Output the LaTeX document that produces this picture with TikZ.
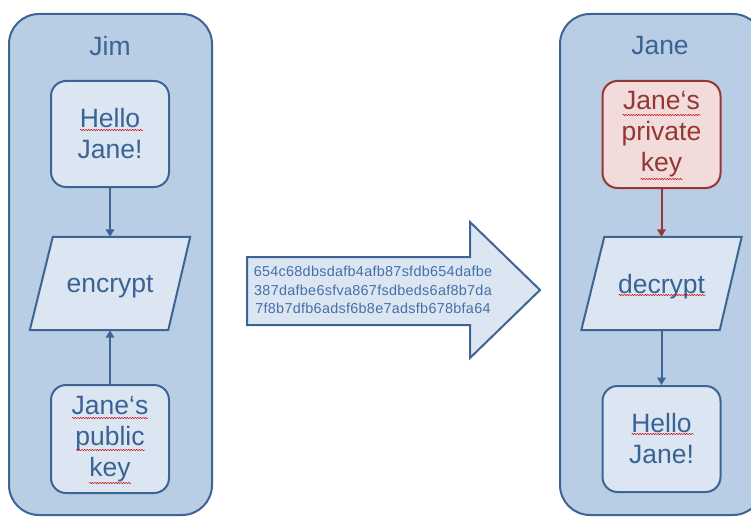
\documentclass[tikz,border=0pt]{standalone}
\usepackage{fontspec}
\setmainfont{Liberation Sans}
\newfontfamily\hexfont[LetterSpace=2]{Liberation Sans}
\usetikzlibrary{arrows.meta,decorations.pathmorphing}

\definecolor{laneFill}{HTML}{B9CDE5}
\definecolor{laneLine}{HTML}{3D6594}
\definecolor{boxFill}{HTML}{DCE6F2}
\definecolor{inkBlue}{HTML}{3A6395}
\definecolor{keyFill}{HTML}{F2DCDB}
\definecolor{keyLine}{HTML}{953735}
\definecolor{hexBlue}{HTML}{4470A8}

\tikzset{
  lane/.style={draw=laneLine, fill=laneFill, line width=2pt, rounded corners=30pt,
    minimum width=203pt, minimum height=501pt},
  lanelabel/.style={text=inkBlue, font=\fontsize{26.5}{30}\selectfont, inner sep=0pt},
  msgbox/.style={draw=laneLine, fill=boxFill, line width=2pt, rounded corners=15pt,
    minimum width=118pt, minimum height=106pt, inner sep=0pt, align=center,
    text=inkBlue, font=\fontsize{26.5}{31}\selectfont},
  keybox/.style={msgbox, draw=keyLine, fill=keyFill, text=keyLine},
  % invisible frame of a parallelogram operation
  opframe/.style={minimum width=160pt, minimum height=93pt, inner sep=0pt},
  opline/.style={draw=laneLine, fill=boxFill, line width=2pt, line join=miter},
  optext/.style={text=inkBlue, inner sep=0pt, font=\fontsize{26.5}{30}\selectfont},
  flow/.style={draw=laneLine, line width=2pt, -{Triangle[length=7.5pt,width=8.5pt]}},
  bigarrow/.style={draw=laneLine, fill=boxFill, line width=2pt, line join=miter},
  hextext/.style={text=hexBlue, align=center, inner sep=0pt,
    font=\hexfont\fontsize{14.4}{18.5}\selectfont},
  spell/.style={draw=red!80!black, line width=0.5pt, decorate,
    decoration={snake, amplitude=0.6pt, segment length=2.6pt}}
}

\begin{document}
\begin{tikzpicture}[x=1pt,y=-1pt]
  \useasboundingbox (0,0) rectangle (751,516);
  \clip (0,0) rectangle (751,516);

  % swim lanes of the two parties
  \node[lane] (jimlane) at (110.5,264.5) {};
  \node[lane] (janelane) at (661.5,264.5) {};
  \node[lanelabel] (jimlabel) at (110,46) {Jim};
  \node[lanelabel] (janelabel) at (660,46) {Jane};

  % sender side
  \node[msgbox] (plainA) at (110,134) {Hello\\Jane!};
  \node[opframe] (enc) at (110,283.5) {};
  \draw[opline] ([xshift=23pt]enc.north west) -- (enc.north east)
    -- ([xshift=-22pt]enc.south east) -- (enc.south west) -- cycle;
  \node[optext] (enclabel) at (110,287) {encrypt};
  \node[msgbox, minimum height=108pt] (pubkey) at (110,439) {Jane‘s\\public\\key};

  % receiver side
  \node[keybox, minimum height=107pt] (privkey) at (661.5,134.5) {Jane‘s\\private\\key};
  \node[opframe] (dec) at (661.5,283.5) {};
  \draw[opline] ([xshift=23pt]dec.north west) -- (dec.north east)
    -- ([xshift=-22pt]dec.south east) -- (dec.south west) -- cycle;
  \node[optext] (declabel) at (661.5,287) {decrypt};
  \node[msgbox] (plainB) at (661.5,439) {Hello\\Jane!};

  % flows inside the lanes
  \draw[flow] (plainA.south) -- (plainA.south |- enc.north);
  \draw[flow] (pubkey.north) -- (pubkey.north |- enc.south);
  \draw[flow, draw=keyLine] (privkey.south) -- (privkey.south |- dec.north);
  \draw[flow] (plainB.north |- dec.south) -- (plainB.north);

  % transmitted ciphertext
  \draw[bigarrow] (247,257) -- (470,257) -- (470,222) -- (540,290)
    -- (470,358) -- (470,325) -- (247,325) -- cycle;
  \node[hextext] (cipher) at (373,290)
    {654c68dbsdafb4afb87sfdb654dafbe\\387dafbe6sfva867fsdbeds6af8b7da\\7f8b7dfb6adsf6b8e7adsfb678bfa64};

  % spell-check marks under words
  \draw[spell] ([xshift=-30pt,yshift=4pt]plainA.center) -- ++(63,0);
  \draw[spell] ([xshift=-38pt,yshift=21pt]pubkey.center) -- ++(76,0);
  \draw[spell] ([xshift=-34pt,yshift=-11pt]pubkey.center) -- ++(69,0);
  \draw[spell] ([xshift=-21pt,yshift=-44pt]pubkey.center) -- ++(42,0);
  \draw[spell] ([xshift=-39pt,yshift=19.5pt]privkey.center) -- ++(78,0);
  \draw[spell] ([xshift=-21pt,yshift=-44.5pt]privkey.center) -- ++(42,0);
  \draw[spell] ([xshift=-43pt,yshift=-11.5pt]dec.center) -- ++(87,0);
  \draw[spell] ([xshift=-30pt,yshift=5pt]plainB.center) -- ++(62,0);
\end{tikzpicture}
\end{document}
